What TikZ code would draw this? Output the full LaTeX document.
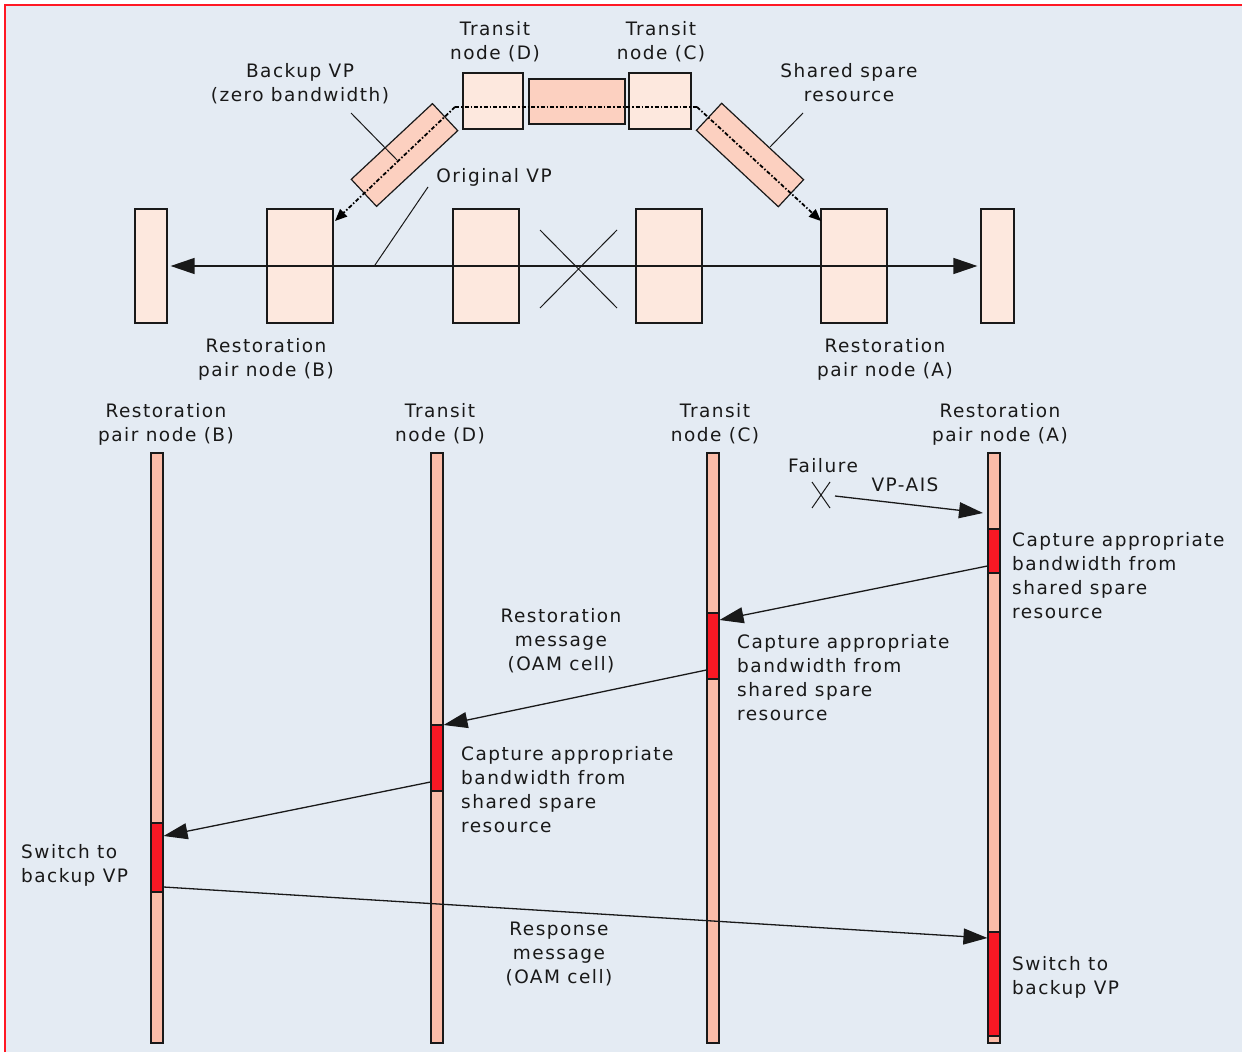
\documentclass[tikz,border=0pt]{standalone}
\usepackage{fontspec}
\setmainfont{DejaVu Sans}[LetterSpace=8]
\usetikzlibrary{arrows.meta}

\definecolor{bg}{RGB}{228,235,243}
\definecolor{framered}{RGB}{255,24,36}
\definecolor{boxlight}{RGB}{253,232,222}
\definecolor{boxmid}{RGB}{252,208,192}
\definecolor{life}{RGB}{251,188,168}
\definecolor{actred}{RGB}{248,24,36}
\definecolor{ink}{RGB}{25,25,25}

\begin{document}
\begin{tikzpicture}[x=1pt,y=-1pt,
  font=\fontsize{18.5}{24}\selectfont,
  txt/.style={inner sep=0pt, align=center, anchor=north, text=ink},
  ltxt/.style={inner sep=0pt, align=left, anchor=north west, text=ink},
  nodebox/.style={draw=ink, line width=1.2pt, fill=boxlight, inner sep=0pt},
  midbox/.style={draw=ink, line width=1.2pt, fill=boxmid, inner sep=0pt},
  lifebox/.style={draw=ink, line width=1.1pt, fill=life, inner sep=0pt, minimum width=12pt},
  actbox/.style={draw=ink, line width=1.1pt, fill=actred, inner sep=0pt, minimum width=12pt},
  msg/.style={draw=ink, line width=1.3pt},
  bigtip/.style={-{Triangle[length=24pt,width=16pt]}},
  vpline/.style={draw=black, line width=1.8pt, dash pattern=on 4pt off 2pt on 1.5pt off 2pt},
  smalltip/.style={-{Triangle[length=12pt,width=10pt]}},
  leader/.style={draw=ink, line width=1pt}
]
\useasboundingbox (0,0) rectangle (1242,1052);
\fill[white] (0,0) rectangle (1242,1052);
\fill[bg] (5,5) rectangle (1242,1052);
\draw[framered, line width=2.4pt] (5,1052) -- (5,5) -- (1242,5);

% ---------- network view ----------
\node[nodebox, minimum width=32pt, minimum height=114pt] (L0) at (151,266) {};
\node[nodebox, minimum width=66pt, minimum height=114pt] (B1) at (300,266) {};
\node[nodebox, minimum width=66pt, minimum height=114pt] (M1) at (486,266) {};
\node[nodebox, minimum width=66pt, minimum height=114pt] (M2) at (669,266) {};
\node[nodebox, minimum width=66pt, minimum height=114pt] (A1) at (854,266) {};
\node[nodebox, minimum width=33pt, minimum height=114pt] (R0) at (997.5,266) {};

\node[nodebox, minimum width=60pt, minimum height=56pt] (TD) at (493,101) {};
\node[midbox, minimum width=96pt, minimum height=45pt] (MID) at (577,101.5) {};
\node[nodebox, minimum width=62pt, minimum height=56pt] (TC) at (660,101) {};
\node[midbox, minimum width=111pt, minimum height=37pt, rotate=43] (SL) at (404.5,155) {};
\node[midbox, minimum width=112pt, minimum height=37pt, rotate=-43] (SR) at (750,155) {};

% original VP
\draw[msg, {Triangle[length=24pt,width=16pt]}-{Triangle[length=24pt,width=16pt]},
      shorten <=3pt, shorten >=3pt] (L0.east) -- (R0.west);
% failure mark on the link
\draw[leader] (540,230) -- (617,308) (617,230) -- (540,308);

% backup VP
\coordinate (vpl) at (455,107);
\coordinate (vpr) at (697,107);
\coordinate (bt) at (335,221);
\coordinate (at) at (821,221);
\draw[vpline] (vpl) -- (vpr);
\draw[vpline, smalltip] (vpl) -- (bt);
\draw[vpline, smalltip] (vpr) -- (at);

% leaders
\draw[leader] (351,113) -- (397,160);
\draw[leader] (803,113) -- (770,147);
\draw[leader] (428,187) -- (375,265);

\node[txt] (tTD) at (495,21) {Transit\\node (D)};
\node[txt] (tTC) at (661,21) {Transit\\node (C)};
\node[txt] (tBK) at (300,63) {Backup VP\\(zero bandwidth)};
\node[txt] (tSS) at (849,63) {Shared spare\\resource};
\node[txt] (tOV) at (494,168) {Original VP};
\node[txt] (tRB) at (266,338) {Restoration\\pair node (B)};
\node[txt] (tRA) at (885,338) {Restoration\\pair node (A)};

% ---------- message sequence ----------
\node[txt] (hB) at (166,403) {Restoration\\pair node (B)};
\node[txt] (hD) at (440,403) {Transit\\node (D)};
\node[txt] (hC) at (715,403) {Transit\\node (C)};
\node[txt] (hA) at (1000,403) {Restoration\\pair node (A)};

\node[lifebox, minimum height=590pt] (LB) at (157,748) {};
\node[lifebox, minimum height=590pt] (LD) at (437,748) {};
\node[lifebox, minimum height=590pt] (LC) at (713,748) {};
\node[lifebox, minimum height=590pt] (LA) at (994,748) {};

\node[actbox, minimum height=44pt] (aA1) at (994,551) {};
\node[actbox, minimum height=66pt] (aC) at (713,646) {};
\node[actbox, minimum height=66pt] (aD) at (437,758) {};
\node[actbox, minimum height=69pt] (aB) at (157,857.5) {};
\node[actbox, minimum height=104pt] (aA2) at (994,984) {};

% failure and alarm
\draw[leader] (812,482) -- (830,508) (830,482) -- (812,508);
\coordinate (ais0) at (835,496);
\coordinate (ais1) at (983,513);
\draw[msg, bigtip] (ais0) -- (ais1);
\node[txt] (tF) at (823,458) {Failure};
\node[txt] (tAIS) at (905,478) {VP-AIS};

% messages
\draw[msg, bigtip] ([yshift=-15pt]aA1.west) -- ([yshift=26pt]aC.east);
\draw[msg, bigtip] ([yshift=-24pt]aC.west) -- ([yshift=33pt]aD.east);
\draw[msg, bigtip] ([yshift=-24pt]aD.west) -- ([yshift=21.5pt]aB.east);
\draw[msg, bigtip] ([yshift=-29.5pt]aB.east) -- ([yshift=46pt]aA2.west);

\node[ltxt] (cA) at (1012,532) {Capture appropriate\\bandwidth from\\shared spare\\resource};
\node[ltxt] (cC) at (737,634) {Capture appropriate\\bandwidth from\\shared spare\\resource};
\node[ltxt] (cD) at (461,746) {Capture appropriate\\bandwidth from\\shared spare\\resource};
\node[txt] (tRM) at (561,608) {Restoration\\message\\(OAM cell)};
\node[txt] (tRS) at (559,922) {Response\\message\\(OAM cell)};
\node[ltxt] (sB) at (21,844) {Switch to\\backup VP};
\node[ltxt] (sA) at (1012,956) {Switch to\\backup VP};
\end{tikzpicture}
\end{document}
